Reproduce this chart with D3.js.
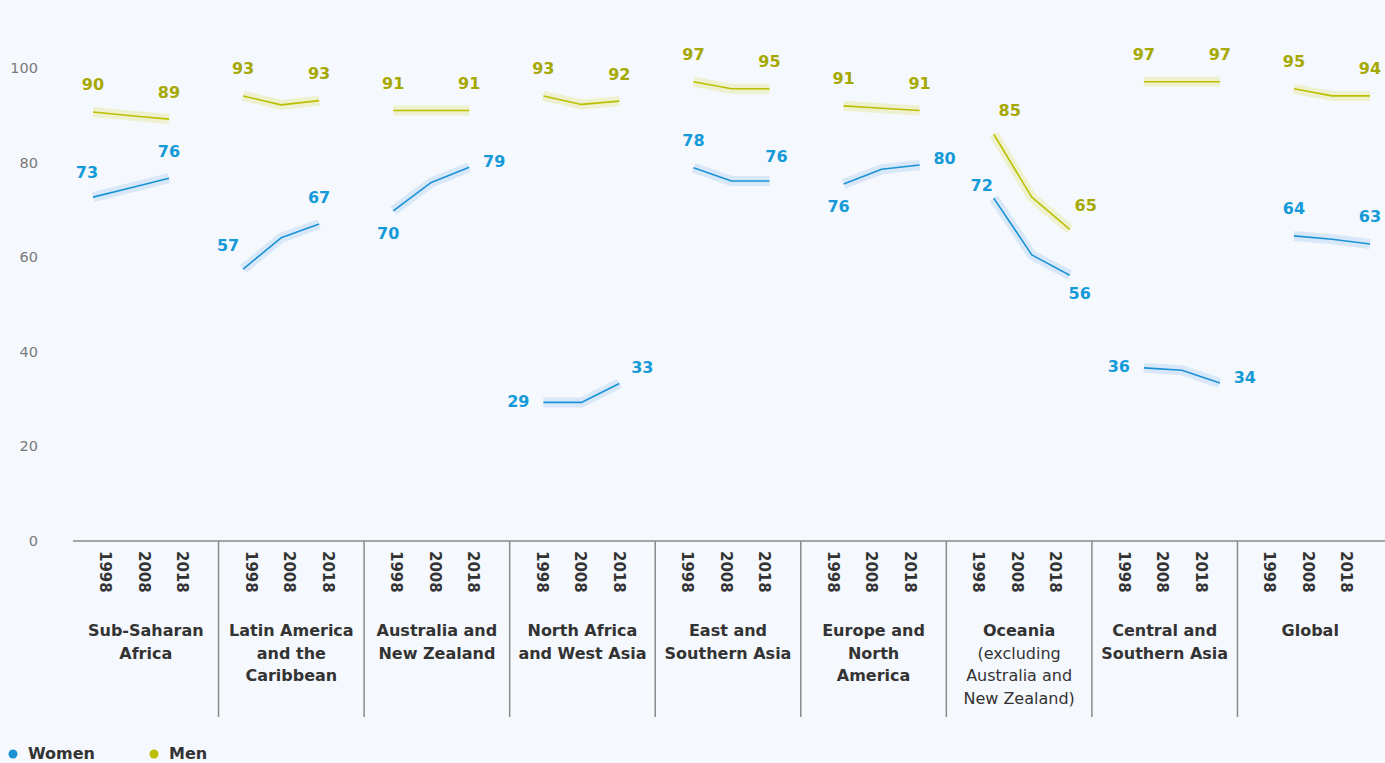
<!DOCTYPE html>
<html>
<head>
<meta charset="utf-8">
<script src="https://cdn.jsdelivr.net/npm/d3@7"></script>
<style>
  html, body { margin: 0; padding: 0; background: #f5f8fd; }
  svg { display: block; font-family: "DejaVu Sans", Lato, sans-serif; }
</style>
</head>
<body>
<svg id="chart" width="1385" height="763"></svg>
<script>
// ---------- data ----------
const categories = [
  "Sub-Saharan Africa", "Latin America and the Caribbean", "Australia and New Zealand",
  "North Africa and West Asia", "East and Southern Asia", "Europe and North America",
  "Oceania (excluding Australia and New Zealand)", "Central and Southern Asia", "Global"
];
const categoryLines = [
  ["Sub-Saharan", "Africa"],
  ["Latin America", "and the", "Caribbean"],
  ["Australia and", "New Zealand"],
  ["North Africa", "and West Asia"],
  ["East and", "Southern Asia"],
  ["Europe and", "North", "America"],
  ["Oceania", "(excluding", "Australia and", "New Zealand)"],
  ["Central and", "Southern Asia"],
  ["Global"]
];
const years = ["1998", "2008", "2018"];
const yTicks = [0, 20, 40, 60, 80, 100];

const women = [
  [72.7, 74.7, 76.7], [57.5, 64.1, 67.0], [69.8, 75.8, 79.0],
  [29.3, 29.3, 33.3], [78.9, 76.1, 76.1], [75.5, 78.6, 79.5],
  [72.5, 60.5, 56.2], [36.6, 36.1, 33.4], [64.5, 63.8, 62.8]
];
const men = [
  [90.7, 89.9, 89.2], [94.1, 92.2, 93.1], [91.0, 91.0, 91.0],
  [94.1, 92.3, 93.0], [97.1, 95.6, 95.6], [92.0, 91.5, 91.0],
  [86.0, 72.7, 65.9], [97.1, 97.1, 97.1], [95.6, 94.1, 94.1]
];
const womenLabels = [[73, 76], [57, 67], [70, 79], [29, 33], [78, 76], [76, 80], [72, 56], [36, 34], [64, 63]];
const menLabels = [[90, 89], [93, 93], [91, 91], [93, 92], [97, 95], [91, 91], [85, 65], [97, 97], [95, 94]];

// label placement keywords (annotation layout)
const womenStartPlace = ["aboveL1", "aboveL", "below", "left", "above", "below", "leftUp", "left", "above"];
const womenEndPlace = ["above", "above", "right", "rightUp", "aboveR1", "right", "belowR", "right", "above"];
const menStartPlace = ["above", "above", "above", "above", "above", "above", "aboveR", "above", "above"];
const menEndPlace = ["above", "above", "above", "above", "above", "above", "aboveR", "above", "above"];

// ---------- styles ----------
const C = {
  women: "#1a93d6", womenText: "#159ad9", womenBand: "#d9e8f8",
  men: "#bcbf00", menText: "#a5a800", menBand: "#eef1cf",
  axis: "#8a8a8a", tick: "#7a7a7a", text: "#333333"
};
const offsets = {
  above: [0, -27], aboveL: [-15, -24], aboveL1: [-6, -25], aboveR: [16, -24], aboveR1: [7, -25],
  below: [-5, 23], left: [-25, -1], leftUp: [-12, -13],
  right: [25, -6], rightUp: [23, -16], belowR: [10, 18]
};

const svg = d3.select("#chart");
const W = 1385, H = 763;
svg.append("rect").attr("width", W).attr("height", H).attr("fill", "#f5f8fd");

const y = d3.scaleLinear().domain([0, 100]).range([541, 68]);
const band = d3.scaleBand().domain(categories).range([73, 1383]).paddingInner(0).paddingOuter(0);
const lineGroup = d3.scaleLinear().domain([0, categories.length - 1]).range([93, 1294]);
const lineYear = d3.scalePoint().domain(years).range([0, 76]);
const labelYear = d3.scalePoint().domain(years).range([32, 109]);

const lx = (g, yr) => lineGroup(g) + lineYear(yr);

// y tick labels
svg.append("g").selectAll("text").data(yTicks).join("text")
  .attr("x", 38).attr("y", d => y(d))
  .attr("text-anchor", "end").attr("dominant-baseline", "central")
  .attr("font-size", 14.5).attr("font-weight", 400).attr("fill", C.tick)
  .text(d => d);

// x axis baseline
svg.append("line").attr("x1", 73).attr("x2", W).attr("y1", y(0)).attr("y2", y(0))
  .attr("stroke", C.axis).attr("stroke-width", 1.5);

// group separators
svg.append("g").selectAll("line").data(categories.slice(1)).join("line")
  .attr("x1", d => band(d)).attr("x2", d => band(d))
  .attr("y1", y(0)).attr("y2", 717)
  .attr("stroke", C.axis).attr("stroke-width", 1.5);

// year labels
const yl = svg.append("g");
categories.forEach((cat, g) => {
  yl.selectAll(null).data(years).join("text")
    .attr("transform", d => `translate(${band(cat) + labelYear(d)},551) rotate(90)`)
    .attr("dominant-baseline", "central")
    .attr("font-size", 15).attr("font-weight", 700).attr("fill", C.text)
    .text(d => d);
});

// category labels
categories.forEach((cat, g) => {
  const t = svg.append("text")
    .attr("x", band(cat) + band.bandwidth() / 2)
    .attr("y", 636)
    .attr("text-anchor", "middle")
    .attr("font-size", 16).attr("fill", C.text);
  categoryLines[g].forEach((ln, i) => {
    t.append("tspan").attr("x", band(cat) + band.bandwidth() / 2)
      .attr("dy", i === 0 ? 0 : 22.5)
      .attr("font-weight", (g === 6 && i > 0) ? 400 : 700)
      .text(ln);
  });
});

// lines
const line = d3.line().x(d => d[0]).y(d => d[1]);
function drawSeries(series, labels, colorLine, colorBand, colorText, startPlace, endPlace) {
  const gg = svg.append("g");
  series.forEach((vals, g) => {
    const pts = vals.map((v, i) => [lx(g, years[i]), y(v)]);
    gg.append("path").attr("d", line(pts)).attr("fill", "none")
      .attr("stroke", colorBand).attr("stroke-width", 10).attr("stroke-linejoin", "round");
    gg.append("path").attr("d", line(pts)).attr("fill", "none")
      .attr("stroke", colorLine).attr("stroke-width", 1.6).attr("stroke-linejoin", "round");
    const ends = [[pts[0], labels[g][0], startPlace[g]], [pts[2], labels[g][1], endPlace[g]]];
    ends.forEach(([p, lab, place]) => {
      const o = offsets[place];
      gg.append("text")
        .attr("x", p[0] + o[0]).attr("y", p[1] + o[1])
        .attr("text-anchor", "middle").attr("dominant-baseline", "central")
        .attr("font-size", 16).attr("font-weight", 700).attr("fill", colorText)
        .text(lab);
    });
  });
}
drawSeries(men, menLabels, C.men, C.menBand, C.menText, menStartPlace, menEndPlace);
drawSeries(women, womenLabels, C.women, C.womenBand, C.womenText, womenStartPlace, womenEndPlace);

// legend
const legendItems = [["Women", C.women], ["Men", C.men]];
const lg = svg.append("g");
legendItems.forEach(([name, col], i) => {
  const x0 = 13 + i * 141;
  lg.append("circle").attr("cx", x0).attr("cy", 754).attr("r", 4.5).attr("fill", col);
  lg.append("text").attr("x", x0 + 15).attr("y", 759)
    .attr("font-size", 16).attr("font-weight", 700).attr("fill", C.text).text(name);
});
</script>
</body>
</html>
